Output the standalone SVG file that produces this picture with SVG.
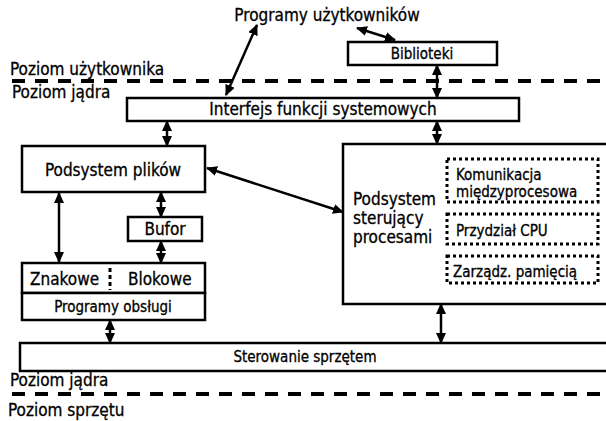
<svg xmlns="http://www.w3.org/2000/svg" width="606" height="421" viewBox="0 0 606 421">
<defs>
<style>
text{font-family:"DejaVu Sans Condensed","DejaVu Sans",sans-serif;fill:#000;stroke:#000;stroke-width:0.3}
.box{fill:#fff;stroke:#000;stroke-width:2.5}
.dot{fill:none;stroke:#000;stroke-width:3;stroke-dasharray:3 3}
.conn{stroke:#000;stroke-width:2.5;fill:none;marker-start:url(#ah);marker-end:url(#ah)}
.lvl{stroke:#000;stroke-width:4;stroke-dasharray:13 10}
.t17{font-size:17px}
.t15{font-size:15px}
.m{text-anchor:middle}
</style>
<marker id="ah" markerUnits="userSpaceOnUse" markerWidth="12" markerHeight="10" refX="10" refY="5" orient="auto-start-reverse" viewBox="0 0 12 10">
<path d="M0,0 L11,5 L0,10 Z" fill="#000"/>
</marker>
</defs>

<g id="levels">
<line class="lvl" x1="12" y1="81" x2="606" y2="81"/>
<line class="lvl" x1="12" y1="394" x2="606" y2="394"/>
<text class="t17" x="10" y="75">Poziom użytkownika</text>
<text class="t17" x="12" y="98">Poziom jądra</text>
<text class="t17" x="10" y="386">Poziom jądra</text>
<text class="t17" x="8" y="416">Poziom sprzętu</text>
</g>

<g id="programy">
<text class="t17 m" x="327" y="21">Programy użytkowników</text>
</g>

<g id="biblioteki">
<rect class="box" x="348" y="42" width="149" height="23"/>
<text class="t15 m" x="422" y="59">Biblioteki</text>
</g>

<g id="interfejs">
<rect class="box" x="127" y="98" width="392" height="23"/>
<text class="t17 m" x="323" y="115">Interfejs funkcji systemowych</text>
</g>

<g id="podsystem-plikow">
<rect class="box" x="22" y="146" width="183" height="46"/>
<text class="t17 m" x="113" y="176">Podsystem plików</text>
</g>

<g id="bufor">
<rect class="box" x="128" y="217" width="74" height="24"/>
<text class="t17 m" x="165" y="235">Bufor</text>
</g>

<g id="znakowe-blokowe">
<rect class="box" x="22" y="263" width="183" height="30"/>
<line x1="110" y1="268" x2="110" y2="290" stroke="#000" stroke-width="3" stroke-dasharray="4 3"/>
<text class="t17" x="30" y="285">Znakowe</text>
<text class="t17" x="128" y="285">Blokowe</text>
</g>

<g id="programy-obslugi">
<rect class="box" x="22" y="293" width="183" height="27"/>
<text class="t15 m" x="113" y="312">Programy obsługi</text>
</g>

<g id="podsystem-sterujacy">
<rect class="box" x="343" y="144" width="270" height="160"/>
<text class="t17" x="353" y="205">Podsystem</text>
<text class="t17" x="353" y="224">sterujący</text>
<text class="t17" x="353" y="243">procesami</text>
</g>

<g id="komunikacja">
<rect class="dot" x="447" y="159" width="151" height="43"/>
<text class="t15" x="456" y="180">Komunikacja</text>
<text class="t15" x="456" y="197">międzyprocesowa</text>
</g>

<g id="przydzial">
<rect class="dot" x="447" y="214" width="151" height="30"/>
<text class="t15" x="456" y="236">Przydział CPU</text>
</g>

<g id="zarzadz">
<rect class="dot" x="447" y="256" width="151" height="27"/>
<text class="t15" x="453" y="277">Zarządz. pamięcią</text>
</g>

<g id="sterowanie">
<rect class="box" x="20" y="343" width="593" height="28"/>
<text class="t15 m" x="305" y="362">Sterowanie sprzętem</text>
</g>

<g id="connectors">
<line class="conn" x1="257" y1="25" x2="226" y2="95"/>
<line class="conn" x1="357" y1="28" x2="395" y2="40"/>
<line class="conn" x1="437" y1="65" x2="437" y2="98"/>
<line class="conn" x1="167" y1="121" x2="167" y2="146"/>
<line class="conn" x1="437" y1="121" x2="437" y2="144"/>
<line class="conn" x1="207" y1="168" x2="343" y2="212"/>
<line class="conn" x1="59" y1="193" x2="59" y2="262"/>
<line class="conn" x1="161" y1="192" x2="161" y2="217"/>
<line class="conn" x1="161" y1="241" x2="161" y2="263"/>
<line class="conn" x1="110" y1="320" x2="110" y2="343"/>
<line class="conn" x1="441" y1="304" x2="441" y2="343"/>
</g>
</svg>
